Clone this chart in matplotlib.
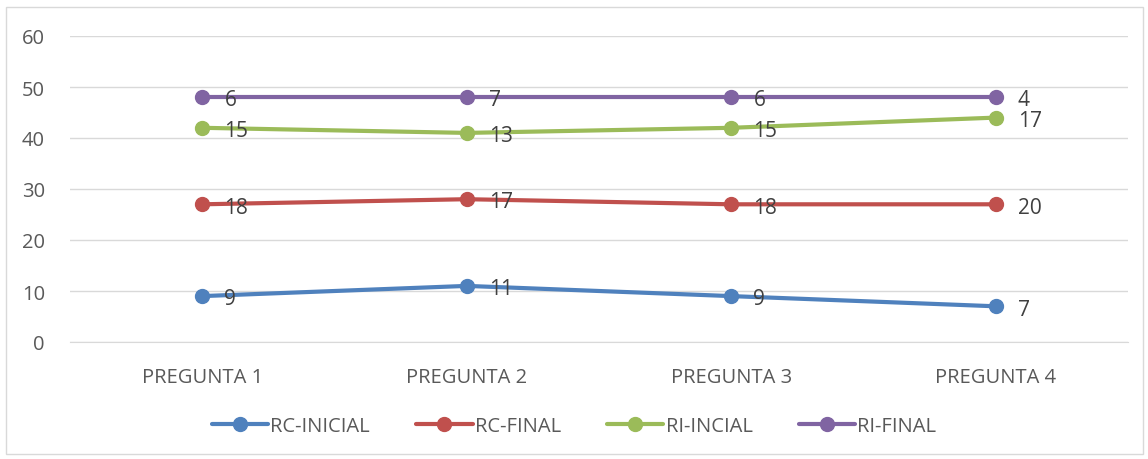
import numpy as np
import matplotlib.pyplot as plt
from matplotlib.patches import Rectangle

# datos (lineas apiladas)
categorias = ["PREGUNTA 1", "PREGUNTA 2", "PREGUNTA 3", "PREGUNTA 4"]
rc_inicial = [9, 11, 9, 7]
rc_final = [18, 17, 18, 20]
ri_inicial = [15, 13, 15, 17]
ri_final = [6, 7, 6, 4]

series = ["RC-INICIAL", "RC-FINAL", "RI-INCIAL", "RI-FINAL"]
valores = [rc_inicial, rc_final, ri_inicial, ri_final]
colores = ["#4F81BD", "#C0504D", "#9BBB59", "#8064A2"]

plt.rcParams['font.family'] = ['Open Sans', 'DejaVu Sans']

fig = plt.figure(figsize=(11.48, 4.6), dpi=100)
fig.patches.append(Rectangle((6 / 1148, 5 / 460), 1137 / 1148, 447 / 460,
                             transform=fig.transFigure, fill=False,
                             edgecolor="#D9D9D9", linewidth=1))
ax = fig.add_axes([70 / 1148, 1 - 343 / 460, 1058 / 1148, 306 / 460])

x = np.arange(len(categorias))
acumulado = np.cumsum(np.array(valores), axis=0)  # apilado

for nombre, vals, acum, col in zip(series, valores, acumulado, colores):
    ax.plot(x, acum, color=col, linewidth=3, marker="o", markersize=10,
            label=nombre, solid_capstyle="round", zorder=3)
    for xi, yi, v in zip(x, acum, vals):
        ax.annotate(str(v), (xi, yi), xytext=(16, -2), textcoords="offset points",
                    ha="left", va="center", fontsize=15, color="#404040", zorder=4)

ax.set_xlim(-0.5, 3.5)
ax.set_ylim(0, 60)
ax.set_yticks(range(0, 61, 10))
ax.set_xticks(x)
ax.set_xticklabels(categorias)
ax.grid(axis="y", color="#D9D9D9", linewidth=1)
ax.set_axisbelow(True)
for s in ["top", "right", "left"]:
    ax.spines[s].set_visible(False)
ax.spines["bottom"].set_color("#D9D9D9")
ax.tick_params(axis="both", length=0, labelsize=14.5, labelcolor="#595959")
ax.tick_params(axis="x", pad=18)
ax.tick_params(axis="y", pad=18)

fig.legend(loc="center", bbox_to_anchor=(0.5, 1 - 427 / 460), ncol=4, frameon=False,
           fontsize=14.5, labelcolor="#595959", handlelength=2.8, columnspacing=2.3,
           handletextpad=0.1)

fig.savefig("out.png", dpi=100)
